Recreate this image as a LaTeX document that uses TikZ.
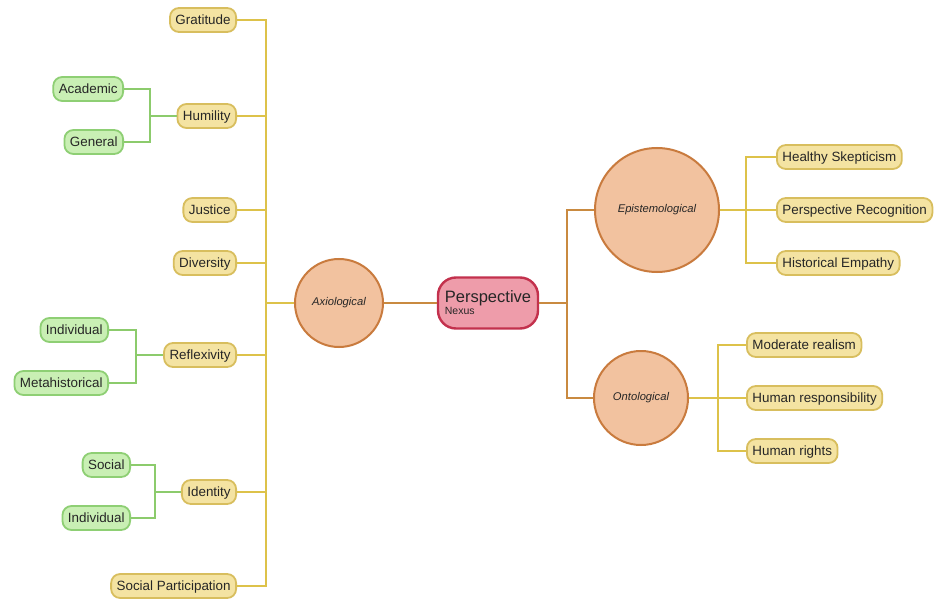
\documentclass[tikz,border=0pt]{standalone}
\usepackage{fontspec}
\setmainfont{Liberation Sans}
\begin{document}
\begin{tikzpicture}[x=1pt,y=-1pt,
  ybox/.style={draw=yborder,fill=yfill,line width=1.8pt,rounded corners=9pt,minimum height=24pt,inner xsep=5.5pt,inner ysep=0pt,text height=11pt,text depth=2pt,font=\fontsize{13.4}{15}\selectfont,text=black!85},
  gbox/.style={draw=gborder,fill=gfill,line width=1.8pt,rounded corners=9pt,minimum height=24pt,inner xsep=5.5pt,inner ysep=0pt,text height=11pt,text depth=2pt,font=\fontsize{13.4}{15}\selectfont,text=black!85},
  circ/.style={circle,draw=cborder,fill=cfill,line width=2pt,inner sep=0pt,font=\fontsize{11.2}{13}\selectfont\itshape,text=black!85},
  yl/.style={draw=yline,line width=1.4pt},
  gl/.style={draw=gline,line width=1.4pt},
  ol/.style={draw=oline,line width=1.6pt}]
\definecolor{yfill}{HTML}{F4E3A2}
\definecolor{yborder}{HTML}{D8BE5E}
\definecolor{yline}{HTML}{DDC24A}
\definecolor{gfill}{HTML}{C9EFB4}
\definecolor{gborder}{HTML}{8ECF74}
\definecolor{gline}{HTML}{8CCB6C}
\definecolor{cfill}{HTML}{F2C29F}
\definecolor{cborder}{HTML}{C97B3E}
\definecolor{oline}{HTML}{C98A40}
\definecolor{pfill}{HTML}{EE9CAA}
\definecolor{pborder}{HTML}{C3314D}
\useasboundingbox[fill=white] (0,0) rectangle (943,599);

% center
\node[draw=pborder,fill=pfill,line width=2.4pt,rounded corners=18pt,minimum width=100pt,minimum height=51pt,align=left,inner sep=3pt,text=black!85] (nexus) at (488,303)
  {{\fontsize{16.5}{18}\selectfont Perspective}\\[0pt]{\fontsize{10.5}{11}\selectfont Nexus\hspace{48pt}}};

% left
\node[circ,minimum size=88pt] (axio) at (339,303) {Axiological};
\coordinate (T) at (266,303);
\node[ybox,anchor=east] (grat) at (237,20) {Gratitude};
\node[ybox,anchor=east] (hum) at (237,116) {Humility};
\node[ybox,anchor=east] (just) at (237,210) {Justice};
\node[ybox,anchor=east] (div) at (237,263) {Diversity};
\node[ybox,anchor=east] (refl) at (237,355) {Reflexivity};
\node[ybox,anchor=east] (iden) at (237,492) {Identity};
\node[ybox,anchor=east] (socp) at (237,586) {Social Participation};

\node[gbox,anchor=east] (acad) at (124,89) {Academic};
\node[gbox,anchor=east] (gen) at (124,142) {General};
\node[gbox,anchor=east] (ind1) at (109,330) {Individual};
\node[gbox,anchor=east] (meta) at (109,383) {Metahistorical};
\node[gbox,anchor=east] (soc) at (131,465) {Social};
\node[gbox,anchor=east] (ind2) at (131,518) {Individual};

\coordinate (H) at (150,116);
\coordinate (R) at (136,355);
\coordinate (I) at (155,492);

% right
\coordinate (M) at (567,303);
\node[circ,minimum size=124pt] (epi) at (657,210) {Epistemological};
\node[circ,minimum size=94pt] (onto) at (641,398) {Ontological};
\coordinate (E) at (746,210);
\coordinate (O) at (718,398);
\node[ybox,anchor=west] (hs) at (776,157) {Healthy Skepticism};
\node[ybox,anchor=west] (pr) at (776,210) {Perspective Recognition};
\node[ybox,anchor=west] (he) at (776,263) {Historical Empathy};
\node[ybox,anchor=west] (mr) at (746,345) {Moderate realism};
\node[ybox,anchor=west] (hr) at (746,398) {Human responsibility};
\node[ybox,anchor=west] (hri) at (746,451) {Human rights};

% connectors
\foreach \n in {grat,hum,just,div,refl,iden,socp} \draw[yl] (\n.east) -| (T);
\draw[yl] (T) -- (axio.west);
\draw[ol] (axio.east) -- (nexus.west);
\draw[ol] (nexus.east) -- (M);
\draw[ol] (epi.west) -| (M);
\draw[ol] (onto.west) -| (M);
\draw[gl] (acad.east) -| (H);
\draw[gl] (gen.east) -| (H);
\draw[gl] (H) -- (hum.west);
\draw[gl] (ind1.east) -| (R);
\draw[gl] (meta.east) -| (R);
\draw[gl] (R) -- (refl.west);
\draw[gl] (soc.east) -| (I);
\draw[gl] (ind2.east) -| (I);
\draw[gl] (I) -- (iden.west);
\draw[yl] (epi.east) -- (E);
\foreach \n in {hs,pr,he} \draw[yl] (\n.west) -| (E);
\draw[yl] (onto.east) -- (O);
\foreach \n in {mr,hr,hri} \draw[yl] (\n.west) -| (O);
\end{tikzpicture}
\end{document}
